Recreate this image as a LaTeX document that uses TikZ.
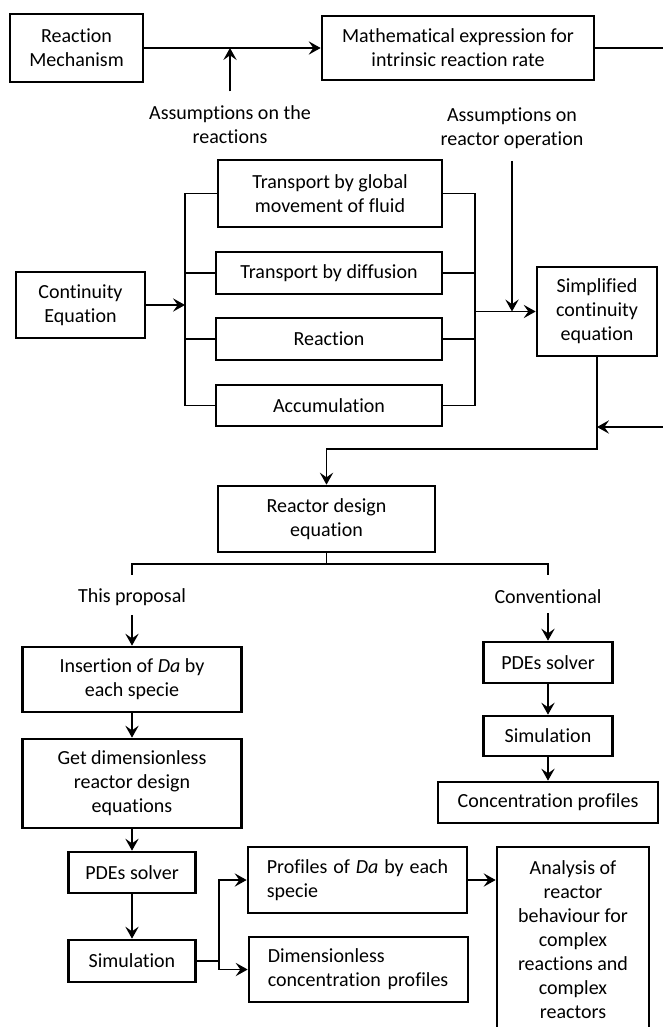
\documentclass[tikz,border=0pt]{standalone}
\usepackage{fontspec}
\setmainfont{Carlito}[Ligatures=CommonOff]
\usetikzlibrary{arrows.meta}

\begin{document}
\begin{tikzpicture}[x=0.75pt,y=0.75pt,yscale=-1,xscale=1,
  every node/.style={font=\fontsize{15}{18}\selectfont},
  blk/.style={draw,line width=2pt,inner sep=0pt,align=center},
  lnk/.style={line width=1.1pt},
  arr/.style={lnk,-{Stealth[length=9pt,width=10pt,inset=3.5pt]}}]
\useasboundingbox (0,0) rectangle (663,1027);
%Shape: Rectangle 
\node [blk,minimum width=99.75pt,minimum height=51pt] (mech) at (76.5,48) {Reaction\\Mechanism};
%Shape: Rectangle 
\node [blk,minimum width=204pt,minimum height=48pt] (rate) at (458,48) {Mathematical expression for\\intrinsic reaction rate};
% Text Node
\node [align=center,inner sep=0.75pt] (asmreac) at (230,125) {Assumptions on the\\reactions};
% Text Node
\node [align=center,inner sep=0.75pt] (asmop) at (512,128.5) {Assumptions on\\reactor operation};
%Shape: Rectangle 
\node [blk,minimum width=96.75pt,minimum height=49.5pt] (cont) at (80.5,305) {Continuity\\Equation};
%Shape: Rectangle 
\node [blk,minimum width=168pt,minimum height=50.25pt] (glob) at (330,193.5) {Transport by global\\movement of fluid};
%Shape: Rectangle 
\node [blk,minimum width=169.5pt,minimum height=31.5pt] (diff) at (329,273) {Transport by diffusion};
%Shape: Rectangle 
\node [blk,minimum width=169.5pt,minimum height=31.5pt] (reac) at (329,339) {Reaction};
%Shape: Rectangle 
\node [blk,minimum width=169.5pt,minimum height=30.75pt] (accu) at (329,405.5) {Accumulation};
%Shape: Rectangle 
\node [blk,minimum width=90pt,minimum height=66.75pt] (simp) at (597,311.5) {Simplified\\continuity\\equation};
%Shape: Rectangle 
\node [blk,minimum width=162.75pt,minimum height=49.5pt] (rde) at (326.5,519) {Reactor design\\equation};
% Text Node
\node [inner sep=0.75pt] (thisp) at (132,597) {This proposal};
% Text Node
\node [inner sep=0.75pt] (conv) at (548,597) {Conventional};
%Shape: Rectangle 
\node [blk,minimum width=164.25pt,minimum height=48.75pt] (ins) at (132,679.5) {Insertion of \textit{Da} by\\each specie};
%Shape: Rectangle 
\node [blk,minimum width=164.25pt,minimum height=66.75pt] (gdim) at (132,783.5) {Get dimensionless\\reactor design\\equations};
%Shape: Rectangle 
\node [blk,minimum width=95.25pt,minimum height=30.75pt] (pdel) at (132,872.5) {PDEs solver};
%Shape: Rectangle 
\node [blk,minimum width=95.25pt,minimum height=31.5pt] (siml) at (132,961) {Simulation};
%Shape: Rectangle 
\node [blk,minimum width=96.75pt,minimum height=30.75pt] (pder) at (548,662.5) {PDEs solver};
%Shape: Rectangle 
\node [blk,minimum width=96.75pt,minimum height=30pt] (simr) at (548,736) {Simulation};
%Shape: Rectangle 
\node [blk,minimum width=165pt,minimum height=30.75pt] (conc) at (548,802.5) {Concentration profiles};
%Shape: Rectangle 
\node [blk,minimum width=164.25pt,minimum height=49.5pt,text width=136pt,align=justify] (prof) at (357.5,880) {Profiles of \textit{Da} by each\linebreak specie};
%Shape: Rectangle 
\node [blk,minimum width=164.25pt,minimum height=48.75pt,text width=136pt,align=left] (dcp) at (358.5,969.5) {Dimensionless\\concentration profiles};
%Shape: Rectangle 
\node [blk,minimum width=114pt,minimum height=138.75pt] (ana) at (573,939.5) {Analysis of\\reactor\\behaviour for\\complex\\reactions and\\complex\\reactors};

\coordinate (lbus) at (185,305);
\coordinate (rbus) at (475,311.5);
\coordinate (rc1) at (668,48);
\coordinate (rc2) at (668,427);
\coordinate (fb) at (597,427);
\coordinate (bend) at (326.5,449);
\coordinate (br) at (326.5,564);
\coordinate (brl) at (132,575);
\coordinate (brr) at (548,575);
\coordinate (sp) at (219,961);

%Straight Lines 
\draw [arr] (mech.east) -- (rate.west) ;
\draw [arr] ([yshift=-10pt]asmreac.north) -- (asmreac.north |- mech.east) ;
\draw [lnk] (rate.east) -- (rc1) -- (rc2) ;
\draw [arr] (rc2) -- (fb) ;
%Straight Lines 
\draw [arr] (cont.east) -- (lbus) ;
\draw [lnk] (lbus) |- (glob.west) (lbus) |- (diff.west) (lbus) |- (reac.west) (lbus) |- (accu.west) ;
\draw [lnk] (glob.east) -| (rbus) (diff.east) -| (rbus) (reac.east) -| (rbus) (accu.east) -| (rbus) ;
\draw [arr] (rbus) -- (simp.west) ;
\draw [arr] ([yshift=8pt]asmop.south) -- (asmop.south |- simp.west) ;
%Straight Lines 
\draw [arr] (simp.south) |- (bend) -- (rde.north) ;
\draw [lnk] (rde.south) -- (br) -| (brl) (br) -| (brr) ;
\draw [arr] ([yshift=6pt]thisp.south) -- (ins.north) ;
\draw [arr] ([yshift=6pt]conv.south) -- (pder.north) ;
%Straight Lines 
\draw [arr] (ins.south) -- (gdim.north) ;
\draw [arr] (gdim.south) -- (pdel.north) ;
\draw [arr] (pdel.south) -- (siml.north) ;
\draw [arr] (pder.south) -- (simr.north) ;
\draw [arr] (simr.south) -- (conc.north) ;
%Straight Lines 
\draw [lnk] (siml.east) -- (sp) ;
\draw [arr] (sp) |- (prof.west) ;
\draw [arr] (sp) |- (dcp.west) ;
\draw [arr] (prof.east) -- (prof.east -| ana.west) ;
\end{tikzpicture}
\end{document}
